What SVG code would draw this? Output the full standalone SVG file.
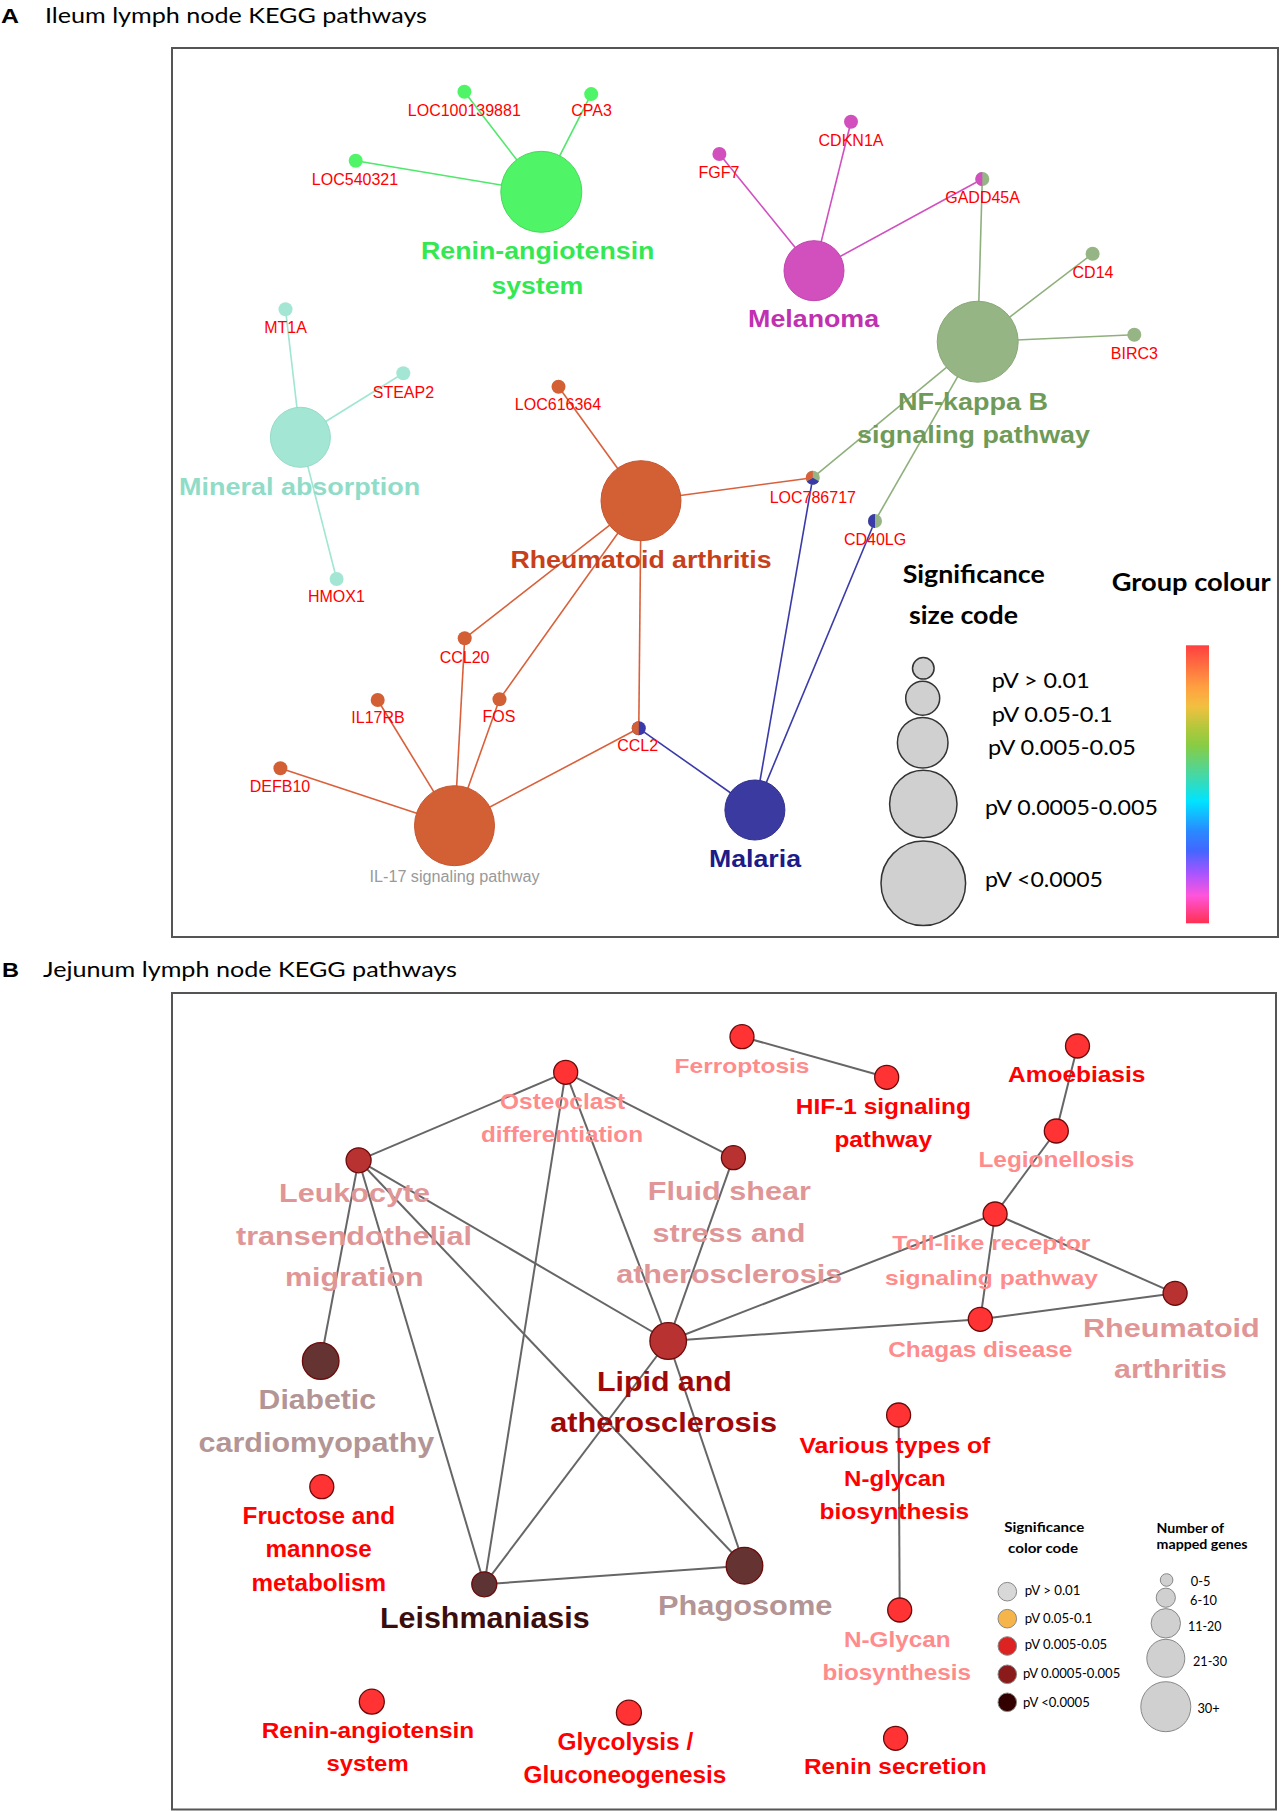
<svg xmlns="http://www.w3.org/2000/svg" width="1282" height="1811" viewBox="0 0 1282 1811">
<style>
.bg{fill:#ffffff}
.frame{fill:none;stroke:#555555;stroke-width:2}
.panel{font-family:"Liberation Sans",Arial,sans-serif;font-weight:bold;font-size:20px;fill:#000}
.title{font-family:Lato,"Open Sans",sans-serif;font-size:22px;fill:#000}
.gene{font-family:"Liberation Sans",Arial,sans-serif;font-size:16px;fill:#ff0000;text-anchor:middle}
.big{font-family:"Liberation Sans",Arial,sans-serif;font-weight:bold;font-size:24px;text-anchor:middle}
.lb{font-family:"Liberation Sans",Arial,sans-serif;font-weight:bold;text-anchor:middle}
.cal{font-family:Lato,"Open Sans",sans-serif;fill:#000}
.calb{font-family:Lato,"Open Sans",sans-serif;font-weight:bold;fill:#000}
.eA{stroke-width:1.6;fill:none}
.eB{stroke:#666666;stroke-width:2;fill:none}
.nB{stroke:#6a0a0a;stroke-width:1.3}
.red{fill:#ff3333}
.dred{fill:#b83232}
.brown{fill:#663333}
.legA{fill:#d0d0d0;stroke:#333333;stroke-width:1.5}
.legB{stroke:#888888;stroke-width:1}
</style>
<defs>
<linearGradient id="rainbow" x1="0" y1="0" x2="0" y2="1">
<stop offset="0" stop-color="#ff4040"/>
<stop offset="0.15" stop-color="#ffa040"/>
<stop offset="0.22" stop-color="#f2c040"/>
<stop offset="0.3" stop-color="#b0c83c"/>
<stop offset="0.36" stop-color="#88cc44"/>
<stop offset="0.47" stop-color="#44d8a8"/>
<stop offset="0.56" stop-color="#00e4ff"/>
<stop offset="0.67" stop-color="#2a88ff"/>
<stop offset="0.74" stop-color="#4466ff"/>
<stop offset="0.82" stop-color="#a855ff"/>
<stop offset="0.9" stop-color="#ff55dd"/>
<stop offset="1" stop-color="#ff3050"/>
</linearGradient>
</defs>
<rect class="bg" x="0" y="0" width="1282" height="1811"/>

<!-- Panel A header -->
<text class="panel" x="1" y="23.3" textLength="18" lengthAdjust="spacingAndGlyphs">A</text>
<text class="title" x="45" y="23.3" textLength="382" lengthAdjust="spacingAndGlyphs">Ileum lymph node KEGG pathways</text>
<rect class="frame" x="172" y="48" width="1106" height="889"/>

<!-- Panel A connectors -->
<g id="connectorsA">
<g stroke="#4ee86a" class="eA">
<line x1="541.3" y1="191.8" x2="464.4" y2="91.7"/>
<line x1="541.3" y1="191.8" x2="591.2" y2="94.1"/>
<line x1="541.3" y1="191.8" x2="355.7" y2="160.7"/>
</g>
<g stroke="#d050c0" class="eA">
<line x1="814" y1="270.7" x2="719.4" y2="154"/>
<line x1="814" y1="270.7" x2="851" y2="121.7"/>
<line x1="814" y1="270.7" x2="982.3" y2="179"/>
</g>
<g stroke="#8fb07c" class="eA">
<line x1="977.7" y1="341.7" x2="982.3" y2="179"/>
<line x1="977.7" y1="341.7" x2="1092.6" y2="253.7"/>
<line x1="977.7" y1="341.7" x2="1134.3" y2="334.7"/>
<line x1="977.7" y1="341.7" x2="812.8" y2="477.7"/>
<line x1="977.7" y1="341.7" x2="875" y2="521"/>
</g>
<g stroke="#a0e6d2" class="eA">
<line x1="300.4" y1="437.3" x2="285.5" y2="309.3"/>
<line x1="300.4" y1="437.3" x2="403.3" y2="373.3"/>
<line x1="300.4" y1="437.3" x2="336.6" y2="579"/>
</g>
<g stroke="#d9603a" class="eA">
<line x1="641" y1="500.7" x2="558.5" y2="386.7"/>
<line x1="641" y1="500.7" x2="812.8" y2="477.7"/>
<line x1="641" y1="500.7" x2="464.7" y2="638.3"/>
<line x1="641" y1="500.7" x2="499.5" y2="699.3"/>
<line x1="641" y1="500.7" x2="638.8" y2="728.3"/>
<line x1="454.5" y1="825.7" x2="280.4" y2="768.3"/>
<line x1="454.5" y1="825.7" x2="377.7" y2="700"/>
<line x1="454.5" y1="825.7" x2="464.7" y2="638.3"/>
<line x1="454.5" y1="825.7" x2="499.5" y2="699.3"/>
<line x1="454.5" y1="825.7" x2="638.8" y2="728.3"/>
</g>
<g stroke="#3a3aa8" class="eA">
<line x1="754.9" y1="810" x2="638.8" y2="728.3"/>
<line x1="754.9" y1="810" x2="812.8" y2="477.7"/>
<line x1="754.9" y1="810" x2="875" y2="521"/>
</g>
</g>

<!-- Panel A nodes -->
<g id="renin-angiotensin-A">
<circle cx="541.3" cy="191.8" r="40.5" fill="#4ff566" stroke="#46d85a" stroke-width="1"/>
<text class="big" fill="#33e850" x="537.7" y="259.3" textLength="233.5" lengthAdjust="spacingAndGlyphs">Renin-angiotensin</text>
<text class="big" fill="#33e850" x="537.3" y="294" textLength="91.8" lengthAdjust="spacingAndGlyphs">system</text>
</g>
<g id="LOC100139881"><circle cx="464.4" cy="91.7" r="7" fill="#4ff566"/><text class="gene" x="464.3" y="115.7">LOC100139881</text></g>
<g id="CPA3"><circle cx="591.2" cy="94.1" r="7" fill="#4ff566"/><text class="gene" x="591.6" y="115.7">CPA3</text></g>
<g id="LOC540321"><circle cx="355.7" cy="160.7" r="7" fill="#4ff566"/><text class="gene" x="355" y="184.7">LOC540321</text></g>

<g id="melanoma">
<circle cx="814" cy="270.7" r="30" fill="#d150be" stroke="#c045ae" stroke-width="1"/>
<text class="big" fill="#c030b0" x="813.6" y="327.3" textLength="131" lengthAdjust="spacingAndGlyphs">Melanoma</text>
</g>
<g id="FGF7"><circle cx="719.4" cy="154" r="7" fill="#d150be"/><text class="gene" x="719" y="177.7">FGF7</text></g>
<g id="CDKN1A"><circle cx="851" cy="121.7" r="7" fill="#d150be"/><text class="gene" x="851" y="145.7">CDKN1A</text></g>
<g id="GADD45A">
<circle cx="982.3" cy="179" r="7" fill="#96b584"/>
<path d="M982.3,172 A7,7 0 0,0 982.3,186 Z" fill="#d150be"/>
<text class="gene" x="982.6" y="202.7">GADD45A</text>
</g>

<g id="nf-kappa-b">
<circle cx="977.7" cy="341.7" r="40.5" fill="#96b584" stroke="#88a876" stroke-width="1"/>
<text class="big" fill="#6f9a58" x="973" y="410" textLength="150" lengthAdjust="spacingAndGlyphs">NF-kappa B</text>
<text class="big" fill="#6f9a58" x="973.5" y="443.3" textLength="233" lengthAdjust="spacingAndGlyphs">signaling pathway</text>
</g>
<g id="CD14"><circle cx="1092.6" cy="253.7" r="7" fill="#96b584"/><text class="gene" x="1093" y="278.3">CD14</text></g>
<g id="BIRC3"><circle cx="1134.3" cy="334.7" r="7" fill="#96b584"/><text class="gene" x="1134.4" y="359">BIRC3</text></g>
<g id="LOC786717">
<circle cx="812.8" cy="477.7" r="7" fill="#96b584"/>
<path d="M812.8,477.7 L818.86,481.2 A7,7 0 0,1 806.74,481.2 Z" fill="#3a3aa8"/>
<path d="M812.8,477.7 L806.74,481.2 A7,7 0 0,1 812.8,470.7 Z" fill="#d9603a"/>
<text class="gene" x="812.8" y="502.7">LOC786717</text>
</g>
<g id="CD40LG">
<circle cx="875" cy="521" r="7" fill="#96b584"/>
<path d="M875,514 A7,7 0 0,0 875,528 Z" fill="#3a3aa8"/>
<text class="gene" x="875" y="545">CD40LG</text>
</g>

<g id="mineral-absorption">
<circle cx="300.4" cy="437.3" r="30" fill="#a4e6d4" stroke="#96dac8" stroke-width="1"/>
<text class="big" fill="#8fdcc8" x="299.6" y="495" textLength="241" lengthAdjust="spacingAndGlyphs">Mineral absorption</text>
</g>
<g id="MT1A"><circle cx="285.5" cy="309.3" r="7" fill="#a4e6d4"/><text class="gene" x="285.5" y="333.3">MT1A</text></g>
<g id="STEAP2"><circle cx="403.3" cy="373.3" r="7" fill="#a4e6d4"/><text class="gene" x="403.4" y="397.7">STEAP2</text></g>
<g id="HMOX1"><circle cx="336.6" cy="579" r="7" fill="#a4e6d4"/><text class="gene" x="336.4" y="602.3">HMOX1</text></g>

<g id="rheumatoid-arthritis-A">
<circle cx="641" cy="500.7" r="40" fill="#d35f35" stroke="#c55530" stroke-width="1"/>
<text class="big" fill="#c8401a" x="641" y="568.3" textLength="261" lengthAdjust="spacingAndGlyphs">Rheumatoid arthritis</text>
</g>
<g id="LOC616364"><circle cx="558.5" cy="386.7" r="7" fill="#d35f35"/><text class="gene" x="558" y="410">LOC616364</text></g>
<g id="CCL20"><circle cx="464.7" cy="638.3" r="7" fill="#d35f35"/><text class="gene" x="464.6" y="662.7">CCL20</text></g>
<g id="IL17RB"><circle cx="377.7" cy="700" r="7" fill="#d35f35"/><text class="gene" x="378" y="723.3">IL17RB</text></g>
<g id="FOS"><circle cx="499.5" cy="699.3" r="7" fill="#d35f35"/><text class="gene" x="499" y="722.3">FOS</text></g>
<g id="CCL2">
<circle cx="638.8" cy="728.3" r="7" fill="#3a3aa8"/>
<path d="M638.8,721.3 A7,7 0 0,0 638.8,735.3 Z" fill="#d35f35"/>
<text class="gene" x="637.7" y="751">CCL2</text>
</g>
<g id="DEFB10"><circle cx="280.4" cy="768.3" r="7" fill="#d35f35"/><text class="gene" x="280" y="792">DEFB10</text></g>

<g id="il-17">
<circle cx="454.5" cy="825.7" r="40" fill="#d35f35" stroke="#c55530" stroke-width="1"/>
<text x="454.5" y="881.7" font-family="Liberation Sans, Arial, sans-serif" font-size="16" fill="#999999" text-anchor="middle" textLength="170" lengthAdjust="spacingAndGlyphs">IL-17 signaling pathway</text>
</g>
<g id="malaria">
<circle cx="754.9" cy="810" r="30" fill="#3a3aa0" stroke="#32328f" stroke-width="1"/>
<text class="big" fill="#1b1b8a" x="755" y="867.3" textLength="92" lengthAdjust="spacingAndGlyphs">Malaria</text>
</g>

<!-- Panel A legend -->
<g id="legendA-size">
<text class="calb" font-size="25" x="902.7" y="583.3" textLength="142" lengthAdjust="spacingAndGlyphs">Significance</text>
<text class="calb" font-size="25" x="909" y="624" textLength="109" lengthAdjust="spacingAndGlyphs">size code</text>
<circle class="legA" cx="923.3" cy="883.3" r="42.3"/>
<circle class="legA" cx="923.3" cy="804" r="33.7"/>
<circle class="legA" cx="922.7" cy="742.7" r="25.3"/>
<circle class="legA" cx="922.7" cy="698.3" r="17"/>
<circle class="legA" cx="923.3" cy="668.3" r="10.8"/>
<text class="cal" font-size="21" x="991.7" y="688.3" textLength="98" lengthAdjust="spacingAndGlyphs">pV &gt; 0.01</text>
<text class="cal" font-size="21" x="991.7" y="721.7" textLength="121" lengthAdjust="spacingAndGlyphs">pV 0.05-0.1</text>
<text class="cal" font-size="21" x="988" y="755" textLength="148" lengthAdjust="spacingAndGlyphs">pV 0.005-0.05</text>
<text class="cal" font-size="21" x="985" y="815" textLength="173" lengthAdjust="spacingAndGlyphs">pV 0.0005-0.005</text>
<text class="cal" font-size="21" x="985" y="886.7" textLength="118" lengthAdjust="spacingAndGlyphs">pV &lt;0.0005</text>
</g>
<g id="legendA-colour">
<text class="calb" font-size="25" x="1111.7" y="590.7" textLength="159" lengthAdjust="spacingAndGlyphs">Group colour</text>
<rect x="1186" y="645.3" width="23" height="278" fill="url(#rainbow)"/>
</g>

<!-- Panel B header -->
<text class="panel" x="2" y="976.7" textLength="17" lengthAdjust="spacingAndGlyphs">B</text>
<text class="title" x="43" y="976.7" textLength="414" lengthAdjust="spacingAndGlyphs">Jejunum lymph node KEGG pathways</text>
<rect class="frame" x="172" y="993" width="1104" height="816.5"/>

<!-- Panel B connectors -->
<g id="connectorsB" class="eB">
<line x1="565.7" y1="1072.3" x2="358.6" y2="1160.3"/>
<line x1="565.7" y1="1072.3" x2="733.4" y2="1157.7"/>
<line x1="565.7" y1="1072.3" x2="668.2" y2="1341"/>
<line x1="565.7" y1="1072.3" x2="484.3" y2="1584.3"/>
<line x1="358.6" y1="1160.3" x2="320.7" y2="1361"/>
<line x1="358.6" y1="1160.3" x2="484.3" y2="1584.3"/>
<line x1="358.6" y1="1160.3" x2="744.5" y2="1565.7"/>
<line x1="358.6" y1="1160.3" x2="668.2" y2="1341"/>
<line x1="733.4" y1="1157.7" x2="668.2" y2="1341"/>
<line x1="668.2" y1="1341" x2="995.1" y2="1214"/>
<line x1="668.2" y1="1341" x2="980.3" y2="1319.3"/>
<line x1="668.2" y1="1341" x2="484.3" y2="1584.3"/>
<line x1="668.2" y1="1341" x2="744.5" y2="1565.7"/>
<line x1="995.1" y1="1214" x2="1056.3" y2="1131"/>
<line x1="1056.3" y1="1131" x2="1077.5" y2="1046"/>
<line x1="995.1" y1="1214" x2="980.3" y2="1319.3"/>
<line x1="995.1" y1="1214" x2="1175.1" y2="1293.3"/>
<line x1="980.3" y1="1319.3" x2="1175.1" y2="1293.3"/>
<line x1="742" y1="1036.7" x2="886.7" y2="1077.3"/>
<line x1="484.3" y1="1584.3" x2="744.5" y2="1565.7"/>
<line x1="898.6" y1="1415" x2="899.7" y2="1610"/>
</g>

<!-- Panel B nodes -->
<g id="osteoclast">
<circle class="nB red" cx="565.7" cy="1072.3" r="12"/>
<text class="lb" font-size="22" fill="#ff8c8c" x="562.6" y="1109" textLength="125" lengthAdjust="spacingAndGlyphs">Osteoclast</text>
<text class="lb" font-size="22" fill="#ff8c8c" x="562" y="1142.3" textLength="162" lengthAdjust="spacingAndGlyphs">differentiation</text>
</g>
<g id="leukocyte">
<circle class="nB dred" cx="358.6" cy="1160.3" r="12.5"/>
<text class="lb" font-size="26" fill="#e09696" x="354.6" y="1202.3" textLength="151" lengthAdjust="spacingAndGlyphs">Leukocyte</text>
<text class="lb" font-size="26" fill="#e09696" x="354" y="1245" textLength="236" lengthAdjust="spacingAndGlyphs">transendothelial</text>
<text class="lb" font-size="26" fill="#e09696" x="354.3" y="1285.7" textLength="138.6" lengthAdjust="spacingAndGlyphs">migration</text>
</g>
<g id="fluid-shear">
<circle class="nB dred" cx="733.4" cy="1157.7" r="12"/>
<text class="lb" font-size="26" fill="#e09696" x="729.3" y="1200.2" textLength="163" lengthAdjust="spacingAndGlyphs">Fluid shear</text>
<text class="lb" font-size="26" fill="#e09696" x="729" y="1241.8" textLength="153" lengthAdjust="spacingAndGlyphs">stress and</text>
<text class="lb" font-size="26" fill="#e09696" x="729.2" y="1283.4" textLength="226" lengthAdjust="spacingAndGlyphs">atherosclerosis</text>
</g>
<g id="lipid">
<circle class="nB dred" cx="668.2" cy="1341" r="18.3"/>
<text class="lb" font-size="28" fill="#a00808" x="664.4" y="1390.5" textLength="135" lengthAdjust="spacingAndGlyphs">Lipid and</text>
<text class="lb" font-size="28" fill="#a00808" x="663.7" y="1432.2" textLength="227" lengthAdjust="spacingAndGlyphs">atherosclerosis</text>
</g>
<g id="diabetic">
<circle class="nB brown" cx="320.7" cy="1361" r="18.3"/>
<text class="lb" font-size="27" fill="#b39595" x="317.3" y="1409.3" textLength="117.4" lengthAdjust="spacingAndGlyphs">Diabetic</text>
<text class="lb" font-size="27" fill="#b39595" x="316.4" y="1451.7" textLength="235.7" lengthAdjust="spacingAndGlyphs">cardiomyopathy</text>
</g>
<g id="ferroptosis">
<circle class="nB red" cx="742" cy="1036.7" r="12"/>
<text class="lb" font-size="21" fill="#ff8c8c" x="742" y="1072.8" textLength="135" lengthAdjust="spacingAndGlyphs">Ferroptosis</text>
</g>
<g id="hif-1">
<circle class="nB red" cx="886.7" cy="1077.3" r="12"/>
<text class="lb" font-size="22" fill="#ff0000" x="883.4" y="1114" textLength="175.2" lengthAdjust="spacingAndGlyphs">HIF-1 signaling</text>
<text class="lb" font-size="22" fill="#ff0000" x="883.2" y="1146.7" textLength="97.6" lengthAdjust="spacingAndGlyphs">pathway</text>
</g>
<g id="amoebiasis">
<circle class="nB red" cx="1077.5" cy="1046" r="12"/>
<text class="lb" font-size="22" fill="#ff0000" x="1076.7" y="1081.7" textLength="137.4" lengthAdjust="spacingAndGlyphs">Amoebiasis</text>
</g>
<g id="legionellosis">
<circle class="nB red" cx="1056.3" cy="1131" r="12"/>
<text class="lb" font-size="22" fill="#ff8c8c" x="1056.4" y="1167.3" textLength="156" lengthAdjust="spacingAndGlyphs">Legionellosis</text>
</g>
<g id="toll-like">
<circle class="nB red" cx="995.1" cy="1214" r="12"/>
<text class="lb" font-size="21" fill="#ff8c8c" x="991.4" y="1250" textLength="198.2" lengthAdjust="spacingAndGlyphs">Toll-like receptor</text>
<text class="lb" font-size="21" fill="#ff8c8c" x="991.5" y="1285" textLength="213" lengthAdjust="spacingAndGlyphs">signaling pathway</text>
</g>
<g id="chagas">
<circle class="nB red" cx="980.3" cy="1319.3" r="12"/>
<text class="lb" font-size="22.5" fill="#ff8c8c" x="980.3" y="1356.7" textLength="184" lengthAdjust="spacingAndGlyphs">Chagas disease</text>
</g>
<g id="rheumatoid-arthritis-B">
<circle class="nB dred" cx="1175.1" cy="1293.3" r="12"/>
<text class="lb" font-size="25.5" fill="#e09696" x="1171.4" y="1336.7" textLength="176.8" lengthAdjust="spacingAndGlyphs">Rheumatoid</text>
<text class="lb" font-size="25.5" fill="#e09696" x="1170.5" y="1378.3" textLength="113" lengthAdjust="spacingAndGlyphs">arthritis</text>
</g>
<g id="fructose">
<circle class="nB red" cx="321.8" cy="1486.7" r="12"/>
<text class="lb" font-size="23" fill="#ff0000" x="318.8" y="1524" textLength="152.5" lengthAdjust="spacingAndGlyphs">Fructose and</text>
<text class="lb" font-size="23" fill="#ff0000" x="318.6" y="1557.3" textLength="106.4" lengthAdjust="spacingAndGlyphs">mannose</text>
<text class="lb" font-size="23" fill="#ff0000" x="318.7" y="1590.7" textLength="134.6" lengthAdjust="spacingAndGlyphs">metabolism</text>
</g>
<g id="leishmaniasis">
<circle class="nB" fill="#5e3333" cx="484.3" cy="1584.3" r="12.5"/>
<text class="lb" font-size="29" fill="#3c0d0d" x="484.8" y="1628.3" textLength="209.6" lengthAdjust="spacingAndGlyphs">Leishmaniasis</text>
</g>
<g id="phagosome">
<circle class="nB brown" cx="744.5" cy="1565.7" r="18.3"/>
<text class="lb" font-size="27" fill="#b39595" x="745.2" y="1614.5" textLength="174.4" lengthAdjust="spacingAndGlyphs">Phagosome</text>
</g>
<g id="various-n-glycan">
<circle class="nB red" cx="898.6" cy="1415" r="12"/>
<text class="lb" font-size="22.4" fill="#ff0000" x="894.9" y="1452.7" textLength="190.8" lengthAdjust="spacingAndGlyphs">Various types of</text>
<text class="lb" font-size="22.4" fill="#ff0000" x="894.9" y="1486" textLength="101.7" lengthAdjust="spacingAndGlyphs">N-glycan</text>
<text class="lb" font-size="22.4" fill="#ff0000" x="894.3" y="1519.3" textLength="149.6" lengthAdjust="spacingAndGlyphs">biosynthesis</text>
</g>
<g id="n-glycan">
<circle class="nB red" cx="899.7" cy="1610" r="12"/>
<text class="lb" font-size="22" fill="#ff8c8c" x="897.3" y="1647.3" textLength="106.6" lengthAdjust="spacingAndGlyphs">N-Glycan</text>
<text class="lb" font-size="22" fill="#ff8c8c" x="896.7" y="1680" textLength="148.5" lengthAdjust="spacingAndGlyphs">biosynthesis</text>
</g>
<g id="renin-angiotensin-B">
<circle class="nB red" cx="371.8" cy="1701.7" r="12.5"/>
<text class="lb" font-size="22.4" fill="#ff0000" x="368" y="1737.7" textLength="212.5" lengthAdjust="spacingAndGlyphs">Renin-angiotensin</text>
<text class="lb" font-size="22.4" fill="#ff0000" x="367.5" y="1771" textLength="82.2" lengthAdjust="spacingAndGlyphs">system</text>
</g>
<g id="glycolysis">
<circle class="nB red" cx="628.9" cy="1712.7" r="12.5"/>
<text class="lb" font-size="23" fill="#ff0000" x="625.4" y="1750" textLength="135.7" lengthAdjust="spacingAndGlyphs">Glycolysis /</text>
<text class="lb" font-size="23" fill="#ff0000" x="625" y="1783.3" textLength="202.8" lengthAdjust="spacingAndGlyphs">Gluconeogenesis</text>
</g>
<g id="renin-secretion">
<circle class="nB red" cx="895.6" cy="1738.3" r="12"/>
<text class="lb" font-size="22.4" fill="#ff0000" x="895.3" y="1774.3" textLength="182.6" lengthAdjust="spacingAndGlyphs">Renin secretion</text>
</g>

<!-- Panel B legend -->
<g id="legendB-colour">
<text class="calb" font-size="14" x="1044.3" y="1531.7" text-anchor="middle" textLength="80" lengthAdjust="spacingAndGlyphs">Significance</text>
<text class="calb" font-size="14" x="1043" y="1552.7" text-anchor="middle" textLength="70" lengthAdjust="spacingAndGlyphs">color code</text>
<circle class="legB" cx="1007.3" cy="1591.7" r="9.3" fill="#d8d8d8"/>
<circle class="legB" cx="1007.3" cy="1618.7" r="9.3" fill="#f5b54a"/>
<circle class="legB" cx="1007.3" cy="1646" r="9.3" fill="#dd2222"/>
<circle class="legB" cx="1007.3" cy="1674.3" r="9.3" fill="#8b1a1a"/>
<circle class="legB" cx="1007.3" cy="1702.3" r="9.3" fill="#330000"/>
<text class="cal" font-size="13" x="1024.8" y="1595" textLength="55.7" lengthAdjust="spacingAndGlyphs">pV &gt; 0.01</text>
<text class="cal" font-size="13" x="1024.8" y="1622.7" textLength="67.5" lengthAdjust="spacingAndGlyphs">pV 0.05-0.1</text>
<text class="cal" font-size="13" x="1024.8" y="1649.3" textLength="82.4" lengthAdjust="spacingAndGlyphs">pV 0.005-0.05</text>
<text class="cal" font-size="13" x="1023" y="1678.3" textLength="97.2" lengthAdjust="spacingAndGlyphs">pV 0.0005-0.005</text>
<text class="cal" font-size="13" x="1023" y="1706.7" textLength="66.8" lengthAdjust="spacingAndGlyphs">pV &lt;0.0005</text>
</g>
<g id="legendB-size">
<text class="calb" font-size="13.5" x="1156.6" y="1532.7" textLength="67.4" lengthAdjust="spacingAndGlyphs">Number of</text>
<text class="calb" font-size="13.5" x="1156.6" y="1549.3" textLength="91" lengthAdjust="spacingAndGlyphs">mapped genes</text>
<circle class="legB" fill="#d0d0d0" stroke="#555" cx="1165.8" cy="1706.7" r="25"/>
<circle class="legB" fill="#d0d0d0" stroke="#555" cx="1165.8" cy="1658.3" r="19"/>
<circle class="legB" fill="#d0d0d0" stroke="#555" cx="1165.8" cy="1623.3" r="14.7"/>
<circle class="legB" fill="#d0d0d0" stroke="#555" cx="1165.8" cy="1597.7" r="9.6"/>
<circle class="legB" fill="#d0d0d0" stroke="#555" cx="1166.6" cy="1580" r="6.3"/>
<text class="cal" font-size="13" x="1190.7" y="1586" textLength="19.7" lengthAdjust="spacingAndGlyphs">0-5</text>
<text class="cal" font-size="13" x="1190" y="1605" textLength="27" lengthAdjust="spacingAndGlyphs">6-10</text>
<text class="cal" font-size="13" x="1188" y="1631" textLength="33.5" lengthAdjust="spacingAndGlyphs">11-20</text>
<text class="cal" font-size="13" x="1193" y="1665.7" textLength="34" lengthAdjust="spacingAndGlyphs">21-30</text>
<text class="cal" font-size="13" x="1197.4" y="1712.7" textLength="22.3" lengthAdjust="spacingAndGlyphs">30+</text>
</g>
</svg>
